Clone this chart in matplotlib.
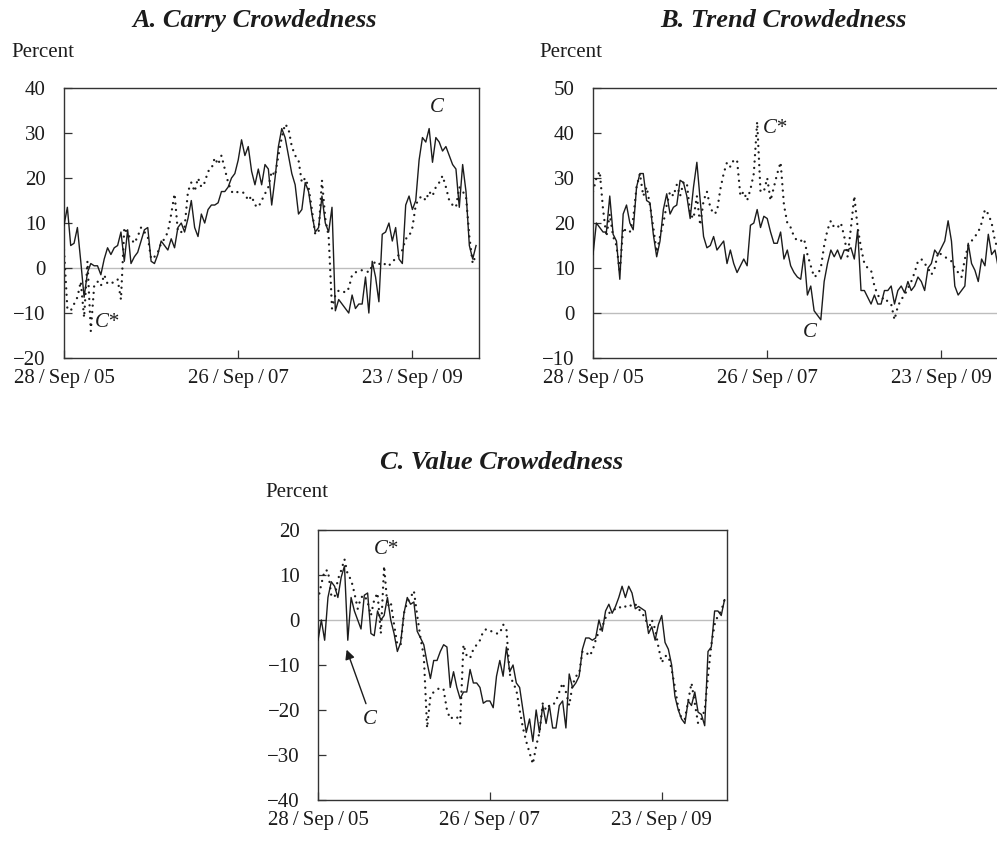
import matplotlib
matplotlib.use("Agg")
import matplotlib.pyplot as plt
import pandas as pd

plt.rcParams['font.family'] = ['Liberation Serif', 'DejaVu Serif']

# bi-weekly observations starting 28 Sep 2005
dates = pd.date_range('2005-09-28', periods=124, freq='14D')

carry_c = [9.5, 13.5, 5, 5.5, 9, 1.5, -6.5, -1, 1, 0.5,
           0.5, -1.5, 2, 4.5, 3, 4.5, 5, 8, 1.5, 8.5,
           1, 2.5, 3.5, 6, 8.5, 9, 1.5, 1, 3, 6,
           5, 4, 6.5, 4.5, 9, 10, 8, 11, 15, 9,
           7, 12, 10, 13, 14, 14, 14.5, 17, 17, 18,
           20, 21, 24, 28.5, 25, 27, 21.5, 18.5, 22, 18.5,
           23, 22, 14, 20, 27, 31, 29, 25, 21, 18.5,
           12, 13, 19, 17, 12, 8, 9, 16, 10, 8,
           13.5, -9.5, -7, -8, -9, -10, -6, -9, -8, -8,
           -2, -10, 1.5, -2, -7.5, 7.5, 8, 10, 6, 9,
           2, 1, 14, 16, 13, 15, 24, 29, 28, 31,
           23.5, 29, 28, 26, 27, 25, 23, 22, 13.5, 23,
           17, 5, 2, 5]
carry_cstar = [4, -9, -9.5, -8, -6.5, -3, -11, 1.5, -14, -4,
               -3, -4, -1.5, -3.5, -3.5, -3, -2.5, -7, 9, 7.5,
               6.5, 5.5, 7, 9, 8, 7, 2, 2.5, 3.5, 5.5,
               6.5, 8, 12, 16.5, 8, 8, 9, 17, 19, 17,
               20, 18, 19, 21.5, 22, 24.5, 23, 25, 22, 19,
               17, 16.5, 17, 17, 16.5, 15, 16, 14, 13.5, 15,
               16.5, 18, 21.5, 20.5, 25, 29, 32, 31, 27, 25,
               24, 19, 20, 18, 13, 7.5, 8, 19.5, 11, 7,
               -9, -6, -5, -5, -5.5, -4.5, -1.5, -1, -0.5, -0.5,
               -0.5, -1, 0.5, 1.5, 1, 0.5, 1, 0.5, 1.5, 2,
               3, 4, 6.5, 7, 9, 14, 15.5, 16, 15, 17,
               16, 18, 19, 20.5, 18, 15, 14, 13.5, 18, 17,
               16, 7, 1, 3]

trend_c = [13, 20, 19, 18, 18, 26, 17.5, 16, 7.5, 22,
           24, 20, 18.5, 28, 31, 31, 25, 24.5, 17.5, 12.5,
           16, 23, 26.5, 22, 23.5, 24, 29.5, 29, 26, 21,
           28, 33.5, 25, 17, 14.5, 15, 17, 14, 15, 16,
           11, 14, 11, 9, 10.5, 12, 10.5, 19.5, 20, 23,
           19, 21.5, 21, 18, 15.5, 15.5, 18, 12, 14, 10.5,
           9, 8, 7.5, 13, 4, 6, 0.5, -0.5, -1.5, 7,
           11, 14, 12.5, 14, 12, 14, 14, 14.5, 12, 18.5,
           5, 5, 3.5, 2, 4, 2, 2, 5, 5, 6,
           2, 5, 6, 4.5, 7, 5, 6, 8, 7, 5,
           10, 11, 14, 13, 14.5, 16, 20.5, 16, 6, 4,
           5, 6, 15.5, 11, 9.5, 7, 12, 10.5, 17.5, 13,
           14, 10, 13, 14]
trend_cstar = [27, 30, 31.5, 23, 17, 22, 17, 15, 9, 19,
               18, 18, 21, 28, 31, 26, 28, 24, 19, 13.5,
               17, 20, 24, 27, 26, 28.5, 26, 29, 29, 22,
               21, 26, 19.5, 25, 27, 23.5, 22, 22.5, 27.5, 31,
               33.5, 32.5, 34, 34, 26, 27, 25, 27.5, 31, 42.5,
               27, 27, 30, 25, 28, 31, 33.5, 24, 20, 19,
               17, 16, 16, 16.5, 13, 10.5, 8, 8.5, 10, 15,
               18.5, 20.5, 19, 19, 20, 17, 12.5, 19, 26, 19,
               14.5, 11, 10, 9.5, 6, 4, 3, 3.5, 2.5, 2,
               -1.5, 1.5, 3, 4, 5.5, 7, 9, 11.5, 12, 11,
               10, 8.5, 10, 13.5, 13, 12.5, 12, 11.5, 10, 9,
               8, 12, 15, 16, 17, 18, 20, 23, 22, 20,
               16, 14, 15, 15]

value_c = [-4.5, 0, -4.5, 5, 8.5, 7.5, 5, 9.5, 12, -4.5,
           5, 2, 0, -2, 5.5, 6, -3, -3.5, 2, 0,
           1, 5, 0, -3, -7, -5, 1.5, 5, 3.5, 4,
           -2.5, -4, -5.5, -9.5, -13, -9, -9, -7, -5.5, -6,
           -15, -11.5, -15, -17.5, -16, -16, -11, -14, -14, -15,
           -18.5, -18, -18, -19.5, -12.5, -9, -12.5, -6, -11.5, -10,
           -14, -15, -20, -25, -22, -27, -20, -25, -19, -23,
           -19, -24, -24, -19, -18, -24, -12, -15, -14, -12.5,
           -6.5, -4, -4, -4.5, -4, 0, -2.5, 2, 3.5, 1.5,
           3, 5, 7.5, 5, 7.5, 6, 2.5, 3, 2.5, 2,
           -3, -1.5, -4.5, -1, 1, -5, -6.5, -10, -17, -20,
           -22, -23, -18, -19, -16, -20.5, -21, -23.5, -7, -6,
           2, 2, 1, 4.5]
value_cstar = [4.5, 8, 11, 11, 5.5, 5, 9, 11, 13.5, 10,
               9, 6, 2.5, 5, 5.5, 4, 1, 4.5, 6, -3,
               12, 3, 4, -1, -5.5, -5.5, 1.5, 4, 5, 6.5,
               1, -4, -8, -24, -17, -16, -15.5, -15, -15.5, -20,
               -22, -21.5, -21.5, -23, -5.5, -8, -8.5, -6.5, -5.5, -4.5,
               -2.5, -2, -2.5, -2.5, -3, -3, -1, -2, -12, -14,
               -15.5, -20, -24, -27, -29.5, -32, -28, -25, -18.5, -20,
               -19, -19, -18, -16, -14, -16, -19, -14.5, -12.5, -12,
               -7, -7, -8, -7, -4.5, -2.5, -1.5, 0.5, 1.5, 2,
               2.5, 3, 2.5, 3, 3.5, 3, 3.5, 2.5, 1.5, 0.5,
               -2, 0, -2, -6, -9.5, -8, -8, -11, -15, -19.5,
               -22, -22, -18, -14, -18.5, -23, -22, -20, -12.5, -5.5,
               -1, 1, 2, 4.5]

tick_dates = pd.to_datetime(['2005-09-28', '2007-09-26', '2009-09-23'])
tick_labels = ['28\u2009/\u2009Sep\u2009/\u200905', '26\u2009/\u2009Sep\u2009/\u200907',
               '23\u2009/\u2009Sep\u2009/\u200909']

start = dates[0]
end = start + pd.Timedelta(weeks=247.5)
ink = '#1c1c1c'


def week(w):
    return start + pd.Timedelta(weeks=w)


def panel(rect, c, cstar, ylim):
    ax = fig.add_axes(rect)
    ax.axhline(0, color='#bdbdbd', lw=1.0, zorder=1)
    # C* is drawn as spaced round dots, C as a thin solid line
    ax.plot(dates, cstar, color=ink, lw=1.7, linestyle=(0, (0.01, 2.7)),
            dash_capstyle='round', zorder=2)
    ax.plot(dates, c, color=ink, lw=1.0, zorder=3)
    ax.set_xlim(start, end)
    ax.set_ylim(*ylim)
    ax.set_yticks(range(ylim[0], ylim[1] + 1, 10))
    ax.set_xticks(tick_dates)
    ax.set_xticklabels(tick_labels)
    ax.tick_params(direction='in', length=6, width=0.9, color='#333333',
                   labelsize=15, labelcolor=ink)
    ax.tick_params(axis='y', pad=13)
    ax.tick_params(axis='x', pad=8)
    for s in ax.spines.values():
        s.set_color('#333333')
        s.set_linewidth(1.0)
    return ax


fig = plt.figure(figsize=(9.97, 8.41), dpi=100)

axA = panel([0.0642, 0.5743, 0.4158, 0.3210], carry_c, carry_cstar, (-20, 40))
axB = panel([0.5948, 0.5743, 0.4158, 0.3210], trend_c, trend_cstar, (-10, 50))
axC = panel([0.3190, 0.0488, 0.4102, 0.3210], value_c, value_cstar, (-40, 20))

tfont = dict(fontsize=19, fontweight='bold', fontstyle='italic', color=ink,
             ha='center', va='center')
fig.text(0.2558, 0.976, 'A. Carry Crowdedness', **tfont)
fig.text(0.7853, 0.976, 'B. Trend Crowdedness', **tfont)
fig.text(0.5035, 0.450, 'C. Value Crowdedness', **tfont)

pfont = dict(fontsize=15, color=ink, ha='left', va='center')
fig.text(0.011, 0.937, 'Percent', **pfont)
fig.text(0.541, 0.937, 'Percent', **pfont)
fig.text(0.266, 0.414, 'Percent', **pfont)

lfont = dict(fontsize=15, fontstyle='italic', color=ink, ha='center', va='center')
axA.text(week(25.7), -12.2, 'C*', **lfont)
axA.text(week(222.7), 35.6, 'C', **lfont)
axB.text(week(108.7), 41, 'C*', **lfont)
axB.text(week(129.3), -4.3, 'C', **lfont)
axC.text(week(41.1), 15.7, 'C*', **lfont)
axC.text(week(31.4), -22.1, 'C', **lfont)
axC.annotate('', xy=(week(17.3), -6.6), xytext=(week(29), -18.6),
             arrowprops=dict(arrowstyle='-|>', color=ink, lw=1.0,
                             mutation_scale=14, shrinkA=0, shrinkB=0))

fig.savefig('out.png', dpi=100)
